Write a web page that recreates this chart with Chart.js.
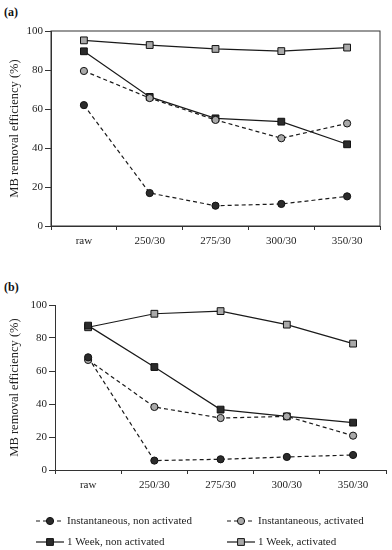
<!DOCTYPE html>
<html>
<head>
<meta charset="utf-8">
<script src="https://cdn.jsdelivr.net/npm/chart.js@4.4.1/dist/chart.umd.min.js"></script>
<style>
  body { margin: 0; background: #fff; width: 392px; height: 550px; position: relative; overflow: hidden; }
  canvas { position: absolute; left: 0; }
  .panel { position: absolute; left: 4px; font: bold 12px "Liberation Serif", serif; color: #111; }
</style>
</head>
<body>
<div class="panel" style="top:5px">(a)</div>
<div class="panel" style="top:280px">(b)</div>
<canvas id="chartA" width="392" height="275" style="top:0"></canvas>
<canvas id="chartB" width="392" height="275" style="top:275px"></canvas>
<script>
// categories and tick values
const categories = ['raw', '250/30', '275/30', '300/30', '350/30'];
const yTicks = [0, 20, 40, 60, 80, 100];
const seriesNames = ['Instantaneous, non activated', 'Instantaneous, activated', '1 Week, non activated', '1 Week, activated'];

// panel (a)
const instNonActA = [62, 16.9, 10.4, 11.3, 15.2];
const instActA = [79.5, 65.6, 54.4, 45, 52.6];
const weekNonActA = [89.6, 66.2, 55.2, 53.5, 41.9];
const weekActA = [95.2, 92.8, 90.8, 89.7, 91.5];

// panel (b)
const instNonActB = [68.3, 5.7, 6.5, 7.9, 9.1];
const instActB = [66.7, 38.2, 31.5, 32.5, 20.8];
const weekNonActB = [87.5, 62.4, 36.6, 32.5, 28.7];
const weekActB = [86.5, 94.7, 96.3, 88.1, 76.6];

const serif = '"Liberation Serif", "Times New Roman", serif';
const dark = '#2b2b2b';
const grey = '#a9a9a9';

function makeSets(a, b, c, d) {
    const base = { borderColor: '#1a1a1a', borderWidth: 1.2, pointBorderColor: '#111', pointBorderWidth: 1, tension: 0 };
    return [
        Object.assign({}, base, { label: seriesNames[0], data: a, borderDash: [4, 3], pointStyle: 'circle', pointRadius: 3.6, backgroundColor: dark, pointBackgroundColor: dark }),
        Object.assign({}, base, { label: seriesNames[1], data: b, borderDash: [4, 3], pointStyle: 'circle', pointRadius: 3.6, backgroundColor: grey, pointBackgroundColor: grey }),
        Object.assign({}, base, { label: seriesNames[2], data: c, pointStyle: 'rect', pointRadius: 4.8, backgroundColor: dark, pointBackgroundColor: dark }),
        Object.assign({}, base, { label: seriesNames[3], data: d, pointStyle: 'rect', pointRadius: 4.8, backgroundColor: grey, pointBackgroundColor: grey })
    ];
}

function makeOptions(yWidth, xHeight, pad) {
    return {
        responsive: false,
        animation: false,
        layout: { padding: pad },
        plugins: { legend: { display: false }, tooltip: { enabled: false } },
        scales: {
            x: {
                offset: true,
                grid: { offset: true, drawOnChartArea: false, tickLength: 4, color: '#333' },
                border: { color: '#333', width: 1 },
                ticks: { color: '#222', padding: 5, font: { family: serif, size: 11 } },
                afterFit: s => { s.height = xHeight; }
            },
            y: {
                min: 0, max: 100,
                afterBuildTicks: s => { s.ticks = yTicks.map(v => ({ value: v })); },
                grid: { drawOnChartArea: false, tickLength: 6, color: '#333' },
                border: { color: '#333', width: 1 },
                ticks: { color: '#222', padding: 2, font: { family: serif, size: 11 } },
                title: { display: true, text: 'MB removal efficiency (%)', color: '#222', padding: { top: 7, bottom: 0 }, font: { family: serif, size: 12.5 } },
                afterFit: s => { s.width = yWidth; }
            }
        }
    };
}

// frame around panel (a)
const boxPlugin = {
    id: 'box',
    afterDraw(chart) {
        const a = chart.chartArea, ctx = chart.ctx;
        ctx.save();
        ctx.strokeStyle = '#333';
        ctx.lineWidth = 1;
        ctx.strokeRect(a.left, a.top, a.right - a.left, a.bottom - a.top);
        ctx.restore();
    }
};

// legend under panel (b), drawn from dataset styles
const legendPlugin = {
    id: 'lineLegend',
    afterDraw(chart) {
        const ctx = chart.ctx;
        const spots = [[36, 246], [227, 246], [36, 267], [227, 267]];
        chart.data.datasets.forEach((ds, i) => {
            const [x, y] = spots[i];
            ctx.save();
            ctx.strokeStyle = ds.borderColor;
            ctx.lineWidth = ds.borderWidth;
            ctx.setLineDash(ds.borderDash || []);
            ctx.beginPath();
            ctx.moveTo(x, y);
            ctx.lineTo(x + 28, y);
            ctx.stroke();
            ctx.setLineDash([]);
            ctx.fillStyle = ds.pointBackgroundColor;
            ctx.strokeStyle = ds.pointBorderColor;
            ctx.lineWidth = 1;
            ctx.beginPath();
            if (ds.pointStyle === 'rect') {
                const h = ds.pointRadius * Math.SQRT1_2;
                ctx.rect(x + 14 - h, y - h, 2 * h, 2 * h);
            } else {
                ctx.arc(x + 14, y, ds.pointRadius, 0, Math.PI * 2);
            }
            ctx.fill();
            ctx.stroke();
            ctx.fillStyle = '#222';
            ctx.font = '11px ' + serif;
            ctx.textBaseline = 'middle';
            ctx.fillText(ds.label, x + 31, y);
            ctx.restore();
        });
    }
};

new Chart(document.getElementById('chartA'), {
    type: 'line',
    data: { labels: categories, datasets: makeSets(instNonActA, instActA, weekNonActA, weekActA) },
    options: makeOptions(51, 49, { top: 31, right: 12, left: 0, bottom: 0 }),
    plugins: [boxPlugin]
});

new Chart(document.getElementById('chartB'), {
    type: 'line',
    data: { labels: categories, datasets: makeSets(instNonActB, instActB, weekNonActB, weekActB) },
    options: makeOptions(55, 80, { top: 30, right: 4, left: 0, bottom: 0 }),
    plugins: [legendPlugin]
});
</script>
</body>
</html>
